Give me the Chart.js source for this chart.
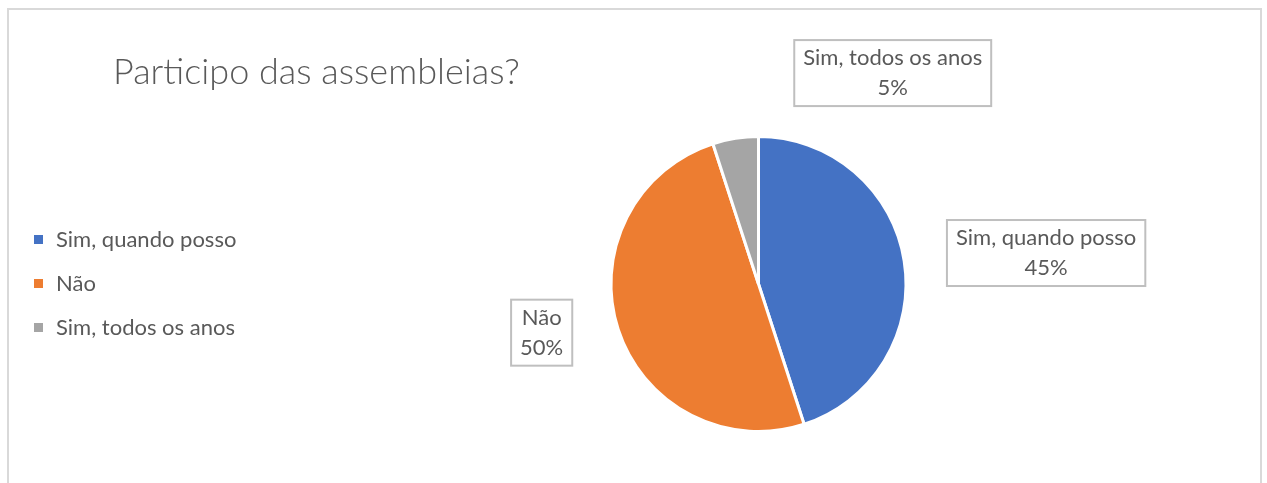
<!DOCTYPE html>
<html lang="pt">
<head>
    <meta charset="UTF-8">
    <title>Participo das assembleias?</title>
    <style>
        * { margin: 0; padding: 0; box-sizing: border-box; }
        body { background: #fff; width: 1267px; height: 483px; overflow: hidden; position: relative; }
        .frame { position: absolute; left: 7px; top: 8px; width: 1255px; height: 520px; border: 2px solid #d9d9d9; }
        #pie { position: absolute; left: 0; top: 0; }
    </style>
    <script src="https://cdn.jsdelivr.net/npm/chart.js"></script>
</head>
<body>
    <div class="frame"></div>
    <canvas id="pie" width="1267" height="483"></canvas>

    <script>
        const title = 'Participo das assembleias?';
        const categories = ['Sim, quando posso', 'Não', 'Sim, todos os anos'];
        const shares = [45, 50, 5];
        const colors = ['#4472C4', '#ED7D31', '#A5A5A5'];

        // where each data label box sits, relative to the pie centre, in pie radii
        const labelSpots = [[1.95, -0.21], [-1.47, 0.33], [0.91, -1.43]];

        const textColor = '#595959';
        const font = 'Lato, "Open Sans", sans-serif';

        const decorations = {
            id: 'decorations',
            afterDraw(chart) {
                const ctx = chart.ctx;
                ctx.save();
                ctx.fillStyle = textColor;
                ctx.textBaseline = 'middle';

                // title
                ctx.font = '300 36px ' + font;
                ctx.textAlign = 'left';
                ctx.fillText(title, 113, 72);

                // legend
                ctx.font = '22px ' + font;
                categories.forEach((name, i) => {
                    const y = 240 + i * 44;
                    ctx.fillStyle = colors[i];
                    ctx.fillRect(34, y - 5, 9, 9);
                    ctx.fillStyle = textColor;
                    ctx.fillText(name, 56, y);
                });

                // data labels in boxes
                const arcs = chart.getDatasetMeta(0).data;
                const total = shares.reduce((a, b) => a + b, 0);
                arcs.forEach((arc, i) => {
                    const { x, y, outerRadius } = arc.getProps(['x', 'y', 'outerRadius'], true);
                    const cx = x + labelSpots[i][0] * outerRadius;
                    const cy = y + labelSpots[i][1] * outerRadius;
                    const lines = [categories[i], Math.round(shares[i] / total * 100) + '%'];
                    const w = Math.max(...lines.map(l => ctx.measureText(l).width)) + 18;
                    const h = 66;
                    ctx.fillStyle = '#fff';
                    ctx.fillRect(cx - w / 2, cy - h / 2, w, h);
                    ctx.strokeStyle = '#bfbfbf';
                    ctx.lineWidth = 2;
                    ctx.strokeRect(cx - w / 2, cy - h / 2, w, h);
                    ctx.fillStyle = textColor;
                    ctx.textAlign = 'center';
                    ctx.fillText(lines[0], cx, cy - 15);
                    ctx.fillText(lines[1], cx, cy + 15);
                });
                ctx.restore();
            }
        };

        new Chart(document.getElementById('pie'), {
            type: 'pie',
            data: {
                labels: categories,
                datasets: [{
                    data: shares,
                    backgroundColor: colors,
                    borderColor: '#fff',
                    borderWidth: 3
                }]
            },
            options: {
                responsive: false,
                animation: false,
                layout: { padding: { left: 609, right: 359, top: 135, bottom: 50 } },
                plugins: {
                    legend: { display: false },
                    tooltip: { enabled: false }
                }
            },
            plugins: [decorations]
        });
    </script>
</body>
</html>
